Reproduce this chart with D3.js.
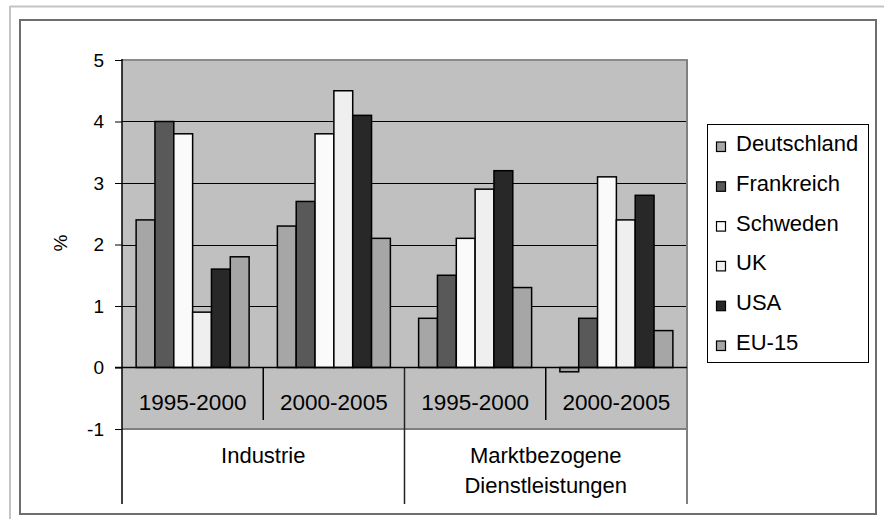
<!DOCTYPE html>
<html>
<head>
<meta charset="utf-8">
<script src="https://cdn.jsdelivr.net/npm/d3@7"></script>
<style>
  html, body { margin: 0; padding: 0; background: #ffffff; }
  svg { display: block; font-family: "Liberation Sans", Arial, sans-serif; }
</style>
</head>
<body>
<svg id="chart" width="884" height="519"></svg>
<script>
// Periods along the x axis (two per sector) and the sector groups beneath them
const periods = ["1995-2000", "2000-2005", "1995-2000", "2000-2005"];
const sectors = ["Industrie", ["Marktbezogene", "Dienstleistungen"]];

// Countries (series) and their fill shades
const countries = ["Deutschland", "Frankreich", "Schweden", "UK", "USA", "EU-15"];
const colors = ["#a6a6a6", "#595959", "#fafafa", "#efefef", "#282828", "#a6a6a6"];

// Growth in % per country, one value per period column
const deutschland = [2.4, 2.3, 0.8, -0.07];
const frankreich  = [4.0, 2.7, 1.5, 0.8];
const schweden    = [3.8, 3.8, 2.1, 3.1];
const uk          = [0.9, 4.5, 2.9, 2.4];
const usa         = [1.6, 4.1, 3.2, 2.8];
const eu15        = [1.8, 2.1, 1.3, 0.6];

// Y axis tick values
const yTicks = [-1, 0, 1, 2, 3, 4, 5];

const seriesValues = [deutschland, frankreich, schweden, uk, usa, eu15];

const svg = d3.select("#chart");

// Outer frames
svg.append("line").attr("x1", 10).attr("x2", 884).attr("y1", 6.5).attr("y2", 6.5)
  .attr("stroke", "#c4c4c4").attr("stroke-width", 2);
svg.append("line").attr("x1", 10).attr("x2", 10).attr("y1", 6).attr("y2", 519)
  .attr("stroke", "#c4c4c4").attr("stroke-width", 2);
svg.append("rect").attr("x", 20).attr("y", 20).attr("width", 856).attr("height", 494)
  .attr("fill", "#ffffff").attr("stroke", "#6e6e6e").attr("stroke-width", 2);

// Plot geometry
const plotLeft = 122, plotRight = 687, plotTop = 60, plotBottom = 429, axisBottom = 504;

const y = d3.scaleLinear().domain([-1, 5]).range([plotBottom, plotTop]);
const cols = d3.range(periods.length);
const x = d3.scaleBand().domain(cols).range([plotLeft, plotRight]).paddingInner(0).paddingOuter(0);
const xs = d3.scaleBand().domain(countries).range([0, x.bandwidth()])
  .paddingInner(0).paddingOuter(0.75);

// Plot background
svg.append("rect").attr("x", plotLeft).attr("y", plotTop)
  .attr("width", plotRight - plotLeft).attr("height", plotBottom - plotTop).attr("fill", "#c0c0c0");

// Gridlines
svg.append("g").selectAll("line").data(yTicks.filter(v => v > 0 && v < 5)).join("line")
  .attr("x1", plotLeft).attr("x2", plotRight)
  .attr("y1", d => Math.round(y(d)) + 0.5).attr("y2", d => Math.round(y(d)) + 0.5)
  .attr("stroke", "#000").attr("stroke-width", 1);

// Plot border (top and right) and -1 baseline
svg.append("line").attr("x1", plotLeft).attr("x2", plotRight + 1).attr("y1", plotTop).attr("y2", plotTop)
  .attr("stroke", "#8a8a8a").attr("stroke-width", 2);
svg.append("line").attr("x1", plotRight).attr("x2", plotRight).attr("y1", plotTop).attr("y2", axisBottom)
  .attr("stroke", "#808080").attr("stroke-width", 2);
svg.append("line").attr("x1", plotLeft).attr("x2", plotRight).attr("y1", y(-1)).attr("y2", y(-1))
  .attr("stroke", "#808080").attr("stroke-width", 2);

// Bars
const bars = svg.append("g");
countries.forEach((c, i) => {
  bars.selectAll(null).data(seriesValues[i].map((v, j) => ({ v, j }))).join("rect")
    .attr("x", d => x(d.j) + xs(c))
    .attr("y", d => y(Math.max(0, d.v)))
    .attr("width", xs.bandwidth())
    .attr("height", d => Math.abs(y(d.v) - y(0)))
    .attr("fill", colors[i])
    .attr("stroke", "#000").attr("stroke-width", 1.5);
});

// Zero line (category axis)
svg.append("line").attr("x1", plotLeft - 7).attr("x2", plotRight).attr("y1", y(0)).attr("y2", y(0))
  .attr("stroke", "#000").attr("stroke-width", 1.5);

// Y axis
const yAxis = d3.axisLeft(y).tickValues(yTicks).tickSize(7).tickPadding(11)
  .tickFormat(d => String(d));
const ga = svg.append("g").attr("transform", `translate(${plotLeft},0)`).call(yAxis);
ga.select(".domain").remove();
ga.selectAll(".tick line").attr("stroke", "#000").attr("stroke-width", 1);
ga.selectAll(".tick text").attr("font-size", 19).attr("fill", "#000")
  .attr("font-family", "'Liberation Sans', Arial, sans-serif");
svg.append("line").attr("x1", plotLeft).attr("x2", plotLeft).attr("y1", plotTop - 1).attr("y2", axisBottom)
  .attr("stroke", "#000").attr("stroke-width", 1.5);

// Y axis title
svg.append("text").attr("transform", "translate(67,243) rotate(-90)")
  .attr("text-anchor", "middle").attr("font-size", 19).attr("fill", "#000").text("%");

// Category separators
svg.append("g").selectAll("line").data([1, 3]).join("line")
  .attr("x1", d => x(d)).attr("x2", d => x(d))
  .attr("y1", y(0)).attr("y2", 420).attr("stroke", "#000").attr("stroke-width", 1.5);
svg.append("line").attr("x1", x(2)).attr("x2", x(2))
  .attr("y1", y(0)).attr("y2", axisBottom).attr("stroke", "#222").attr("stroke-width", 1.5);

// Period labels
svg.append("g").selectAll("text").data(periods).join("text")
  .attr("x", (d, i) => x(i) + x.bandwidth() / 2).attr("y", 410)
  .attr("text-anchor", "middle").attr("font-size", 22.5).attr("fill", "#000").text(d => d);

// Sector labels
sectors.forEach((s, k) => {
  const cx = (x(2 * k) + x(2 * k + 1) + x.bandwidth()) / 2;
  const lines = Array.isArray(s) ? s : [s];
  lines.forEach((t, n) => {
    svg.append("text").attr("x", cx).attr("y", 463 + n * 30)
      .attr("text-anchor", "middle").attr("font-size", 22).attr("fill", "#000").text(t);
  });
});

// Legend
const lg = svg.append("g");
lg.append("rect").attr("x", 707.5).attr("y", 124.5).attr("width", 161).attr("height", 238)
  .attr("fill", "#fff").attr("stroke", "#000").attr("stroke-width", 1);
countries.forEach((c, i) => {
  const base = 151 + i * 39.8;
  lg.append("rect").attr("x", 716.5).attr("y", base - 9).attr("width", 9).attr("height", 9.5)
    .attr("fill", colors[i]).attr("stroke", "#000").attr("stroke-width", 1.2);
  lg.append("text").attr("x", 736).attr("y", base).attr("font-size", 22)
    .attr("fill", "#000").text(c);
});
</script>
</body>
</html>
